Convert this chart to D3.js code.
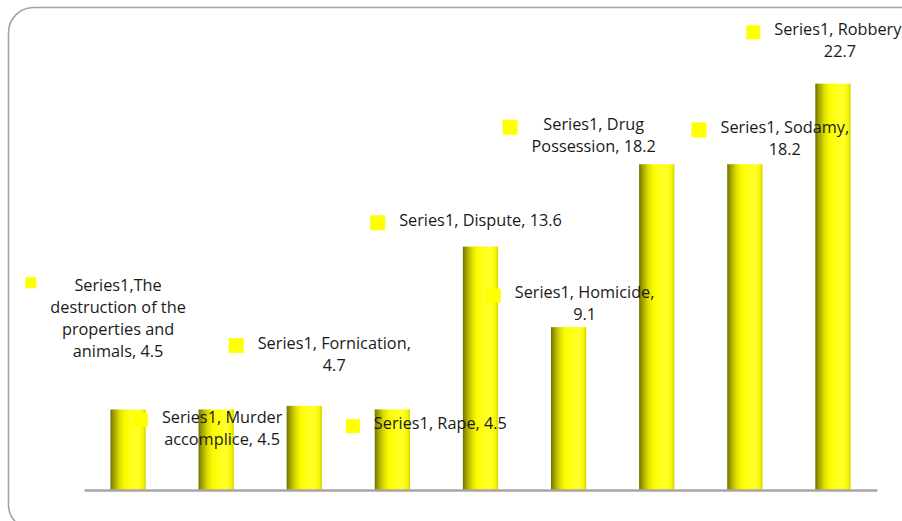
<!DOCTYPE html>
<html>
<head>
<meta charset="utf-8">
<script src="https://cdn.jsdelivr.net/npm/d3@7"></script>
<style>
  html, body { margin: 0; padding: 0; background: #fff; }
  svg { display: block; }
  .lbl { font-family: "Open Sans", "Noto Sans", sans-serif; font-size: 16.3px; fill: #1a1a1a; }
</style>
</head>
<body>
<svg id="chart" width="902" height="521"></svg>
<script>
// ---- data ----
const categories = [
  "The destruction of the properties and animals",
  "Murder accomplice",
  "Fornication",
  "Rape",
  "Dispute",
  "Homicide",
  "Drug Possession",
  "Sodamy",
  "Robbery"
];
const values = [4.5, 4.5, 4.7, 4.5, 13.6, 9.1, 18.2, 18.2, 22.7];
const seriesName = "Series1";
const labelLines = [
  ["Series1,The", "destruction of the", "properties and", "animals, 4.5"],
  ["Series1, Murder", "accomplice, 4.5"],
  ["Series1, Fornication,", "4.7"],
  ["Series1, Rape, 4.5"],
  ["Series1, Dispute, 13.6"],
  ["Series1, Homicide,", "9.1"],
  ["Series1, Drug", "Possession, 18.2"],
  ["Series1, Sodamy,", "18.2"],
  ["Series1, Robbery,", "22.7"]
];

// ---- layout (label placement: dx from bar centre in px, first-baseline level in value units) ----
const labelDx = [-10, 6, 30, 48, 0, 16, -63, 40, 7];
const labelLevel = [11.1, 3.75, 7.9, 3.4, 14.76, 10.7, 20.1, 19.95, 25.4];
const keySize = [11, 14, 15, 14, 15, 14, 15, 15, 14];

const W = 902, H = 521;
const svg = d3.select("#chart");

// border
svg.append("rect")
  .attr("x", 8.5).attr("y", 7.5)
  .attr("width", 940).attr("height", 522)
  .attr("rx", 25).attr("ry", 25)
  .attr("fill", "none").attr("stroke", "#a3a3a3").attr("stroke-width", 1.6);

const x = d3.scaleBand().domain(categories).range([84, 877]).paddingInner(0.6).paddingOuter(0.3);
const y = d3.scaleLinear().domain([0, 25]).range([490, 42.5]);

// gradient for cylinder look
const defs = svg.append("defs");
const grad = defs.append("linearGradient").attr("id", "barGrad").attr("x1", "0").attr("x2", "1").attr("y1", "0").attr("y2", "0");
[[0, "#6e6e00"], [0.08, "#9a9a00"], [0.25, "#dcdc00"], [0.4, "#fbfb00"], [0.6, "#ffff1a"], [0.8, "#ffff2a"], [0.93, "#f4f400"], [1, "#d2d200"]]
  .forEach(([o, c]) => grad.append("stop").attr("offset", o).attr("stop-color", c));

// bars
svg.append("g").selectAll("rect").data(values).join("rect")
  .attr("x", (d, i) => x(categories[i]))
  .attr("y", d => y(d))
  .attr("width", x.bandwidth())
  .attr("height", d => y(0) - y(d))
  .attr("fill", "url(#barGrad)");

// axis line
const axis = svg.append("g").attr("transform", `translate(0,${y(0)})`)
  .call(d3.axisBottom(x).tickSize(0).tickFormat(""));
axis.select(".domain").attr("stroke", "#a6a6a6").attr("stroke-width", 2.6);

// data labels
const lineH = 22;
const lg = svg.append("g");
values.forEach((v, i) => {
  const cx = x(categories[i]) + x.bandwidth() / 2 + labelDx[i];
  const by = y(labelLevel[i]);
  const t = lg.append("text").attr("class", "lbl").attr("text-anchor", "middle");
  labelLines[i].forEach((ln, k) => {
    t.append("tspan").attr("x", cx).attr("y", by + k * lineH).text(ln);
  });
  // widest line left edge
  let maxW = 0;
  t.selectAll("tspan").each(function () { maxW = Math.max(maxW, this.getComputedTextLength()); });
  const left = cx - maxW / 2;
  const s = keySize[i];
  const cy = i === 0 ? by - 8.5 : by - 3;
  lg.append("rect")
    .attr("x", left - 14 - s).attr("y", cy - s / 2)
    .attr("width", s).attr("height", s)
    .attr("fill", "#ffff00");
});
</script>
</body>
</html>
